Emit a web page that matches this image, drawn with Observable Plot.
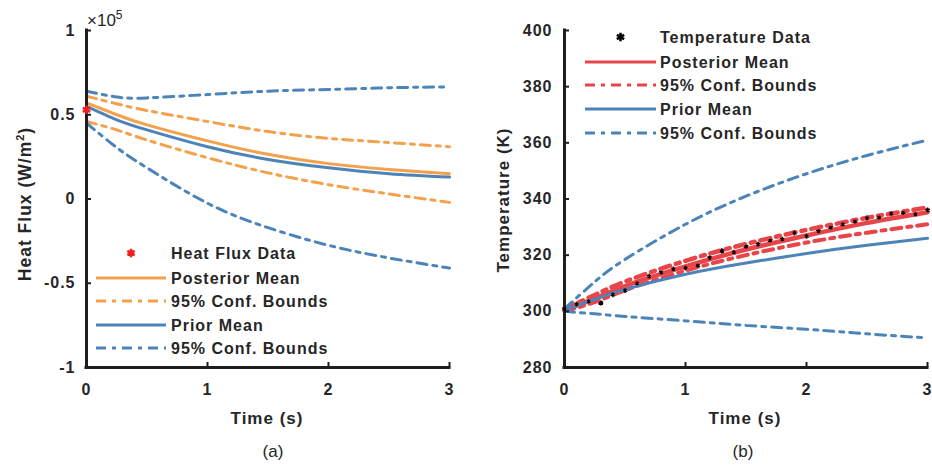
<!DOCTYPE html>
<html>
<head>
<meta charset="utf-8">
<script src="https://cdn.jsdelivr.net/npm/d3@7"></script>
<script src="https://cdn.jsdelivr.net/npm/@observablehq/plot@0.6"></script>
<style>
  html, body { margin: 0; padding: 0; background: #fff; }
  body { width: 932px; height: 468px; position: relative; overflow: hidden;
         font-family: "Liberation Sans", Arial, sans-serif; }
  .panel { position: absolute; top: 0; }
  .lbl { position: absolute; font-weight: bold; font-size: 17px; color: #262626;
         letter-spacing: 1px; white-space: nowrap; line-height: 1; }
  .ylab { transform: translate(-50%, -50%) rotate(-90deg); }
  .xlab { transform: translate(-50%, -50%); }
  .cap { position: absolute; font-size: 17px; color: #262626; transform: translate(-50%, -50%);
         line-height: 1; }
  #overlay { position: absolute; left: 0; top: 0; pointer-events: none; }
</style>
</head>
<body>
<div id="left" class="panel" style="left:0"></div>
<div id="right" class="panel" style="left:478px"></div>

<div class="lbl" style="left:87px; top:9px; font-size:17px; font-weight:normal; letter-spacing:0">×10<sup style="font-size:12px">5</sup></div>
<div class="lbl ylab" style="left:25px; top:204px; font-size:17.5px">Heat Flux (W/m<sup style="font-size:11px">2</sup>)</div>
<div class="lbl ylab" style="left:503px; top:200px">Temperature (K)</div>
<div class="lbl xlab" style="left:267px; top:418px">Time (s)</div>
<div class="lbl xlab" style="left:745px; top:418px">Time (s)</div>
<div class="cap" style="left:273px; top:451px">(a)</div>
<div class="cap" style="left:743px; top:451px">(b)</div>

<script>
// ---- shared time grid for the model curves (s) ----
const t = [0, 0.25, 0.5, 1, 1.5, 2, 2.5, 3];

// ---- (a) heat flux, in units of 1e5 W/m^2 ----
const fluxDataT = [0];
const fluxDataV = [0.53];
const fluxPostMean  = [0.57, 0.50, 0.44, 0.345, 0.265, 0.21, 0.175, 0.15];
const fluxPostUpper = [0.61, 0.565, 0.525, 0.46, 0.40, 0.36, 0.335, 0.31];
const fluxPostLower = [0.46, 0.41, 0.35, 0.245, 0.155, 0.085, 0.03, -0.02];
const fluxPriorMean  = [0.55, 0.47, 0.41, 0.31, 0.235, 0.185, 0.15, 0.13];
const fluxPriorUpper = [0.64, 0.605, 0.60, 0.62, 0.64, 0.65, 0.66, 0.665];
const fluxPriorLower = [0.45, 0.305, 0.185, -0.025, -0.17, -0.275, -0.35, -0.41];

// ---- (b) temperature, K ----
const tempDataT = [0, 0.1, 0.2, 0.3, 0.4, 0.5, 0.6, 0.7, 0.8, 0.9, 1.0, 1.1, 1.2, 1.3, 1.4, 1.5,
                   1.6, 1.7, 1.8, 1.9, 2.0, 2.1, 2.2, 2.3, 2.4, 2.5, 2.6, 2.7, 2.8, 2.9, 3.0];
const tempDataV = [300.8, 302.5, 303.5, 303.0, 306.0, 307.5, 310.0, 312.4, 313.8, 315.0, 315.5,
                   316.3, 319.0, 321.5, 321.0, 323.0, 323.8, 325.2, 325.6, 328.0, 326.8, 328.5,
                   329.8, 331.0, 332.0, 333.2, 333.4, 334.8, 335.1, 334.6, 336.0];
const tempPostMean  = [300.5, 304.5, 309.0, 316.0, 322.0, 327.0, 331.5, 335.3];
const tempPostUpper = [301.0, 305.8, 310.6, 318.0, 324.0, 329.0, 333.3, 337.0];
const tempPostLower = [300.0, 303.3, 307.5, 314.5, 320.0, 324.5, 328.0, 331.0];
const tempPriorMean  = [300.5, 304.3, 307.8, 313.2, 317.2, 320.6, 323.5, 326.0];
const tempPriorUpper = [301.0, 310.5, 318.5, 331.0, 341.0, 349.0, 355.5, 361.0];
const tempPriorLower = [300.0, 299.1, 298.2, 296.6, 295.0, 293.6, 292.0, 290.5];

// ---- tick labels ----
const xTicks = [0, 1, 2, 3];
const fluxTicks = [-1, -0.5, 0, 0.5, 1];
const tempTicks = [280, 300, 320, 340, 360, 380, 400];

// ---- legend entries ----
const fluxLegend = ["Heat Flux Data", "Posterior Mean", "95% Conf. Bounds", "Prior Mean", "95% Conf. Bounds"];
const tempLegend = ["Temperature Data", "Posterior Mean", "95% Conf. Bounds", "Prior Mean", "95% Conf. Bounds"];

const ORANGE = "#F5A04A", BLUE = "#4C84BA", RED = "#E8454A", STAR_RED = "#F21E1E", INK = "#1e1e1e";
const DASHDOT = "10,6,4,6";
const TICK = 5;               // inward tick length, px
const PLOT_W = 363, PLOT_H = 337;

const rows = (xs, ys) => xs.map((x, i) => ({t: x, v: ys[i]}));
const fmt = d => String(d);

const svgStyle = "font-family:'Liberation Sans',Arial,sans-serif;font-size:16px;font-weight:bold;" +
                 "letter-spacing:1px;color:#262626;background:transparent;overflow:visible;";

function curve(ys, stroke, dashed, width = 3) {
  return Plot.line(rows(t, ys), {
    x: "t", y: "v", stroke, strokeWidth: width, curve: "natural",
    strokeDasharray: dashed ? DASHDOT : null
  });
}

// left/bottom axis lines with short inward ticks
function frame(yMin, yTicks, yPad) {
  return [
    Plot.axisX({ticks: xTicks, tickFormat: fmt, tickSize: 0, tickPadding: 16, label: null}),
    Plot.axisY({ticks: yTicks, tickFormat: fmt, tickSize: 0, tickPadding: yPad, label: null}),
    Plot.ruleY(yTicks, {stroke: INK, strokeWidth: 2, insetRight: PLOT_W - TICK}),
    Plot.ruleX(xTicks, {stroke: INK, strokeWidth: 2, insetTop: PLOT_H - TICK}),
    Plot.ruleX([0], {stroke: INK, strokeWidth: 3, strokeLinecap: "square"}),
    Plot.ruleY([yMin], {stroke: INK, strokeWidth: 3, strokeLinecap: "square"})
  ];
}

// (a) heat flux estimate
const left = Plot.plot({
  width: 466, height: 430,
  marginLeft: 86, marginRight: 17, marginTop: 30, marginBottom: 63,
  style: svgStyle,
  x: {domain: [0, 3]},
  y: {domain: [-1, 1]},
  marks: [
    curve(fluxPostMean, ORANGE, false),
    curve(fluxPostUpper, ORANGE, true),
    curve(fluxPostLower, ORANGE, true),
    curve(fluxPriorMean, BLUE, false),
    curve(fluxPriorUpper, BLUE, true),
    curve(fluxPriorLower, BLUE, true),
    ...frame(-1, fluxTicks, 11),
    Plot.dot(rows(fluxDataT, fluxDataV), {x: "t", y: "v", symbol: "asterisk", r: 4, stroke: STAR_RED, strokeWidth: 2.5})
  ]
});
document.getElementById("left").append(left);

// (b) temperature response
const right = Plot.plot({
  width: 454, height: 430,
  marginLeft: 86, marginRight: 5, marginTop: 30, marginBottom: 63,
  style: svgStyle,
  x: {domain: [0, 3]},
  y: {domain: [280, 400]},
  marks: [
    Plot.dot(rows(tempDataT, tempDataV), {x: "t", y: "v", symbol: "asterisk", r: 2.5, stroke: "#000", strokeWidth: 1.6}),
    curve(tempPostMean, RED, false, 4.5),
    curve(tempPostUpper, RED, true, 4.5),
    curve(tempPostLower, RED, true, 4),
    curve(tempPriorMean, BLUE, false),
    curve(tempPriorUpper, BLUE, true),
    curve(tempPriorLower, BLUE, true),
    ...frame(280, tempTicks, 12),
    Plot.dot(rows(tempDataT, tempDataV), {x: "t", y: "v", symbol: "asterisk", r: 1.8, stroke: "#000", strokeWidth: 1.3})
  ]
});
document.getElementById("right").append(right);

// ---- legends ----
const overlay = d3.select("body").append("svg")
  .attr("id", "overlay").attr("width", 932).attr("height", 468);

function legend(x0, x1, xText, yRows, labels, styles) {
  const g = overlay.append("g")
    .style("font-family", "'Liberation Sans',Arial,sans-serif")
    .style("font-size", "16px").style("font-weight", "bold").style("letter-spacing", "1px");
  labels.forEach((label, i) => {
    const y = yRows[i], s = styles[i];
    if (s.star) {
      g.append("path")
        .attr("d", d3.symbol(d3.symbolAsterisk, s.size)())
        .attr("transform", `translate(${(x0 + x1) / 2},${y})`)
        .attr("stroke", s.color).attr("stroke-width", s.width).attr("fill", "none");
    } else {
      g.append("line").attr("x1", x0).attr("x2", x1).attr("y1", y).attr("y2", y)
        .attr("stroke", s.color).attr("stroke-width", 3)
        .attr("stroke-dasharray", s.dashed ? DASHDOT : null);
    }
    g.append("text").attr("x", xText).attr("y", y).attr("dy", "0.36em")
      .attr("fill", "#262626").text(label);
  });
}

legend(96, 166, 171, [253, 278, 301, 325, 348], fluxLegend, [
  {star: true, color: STAR_RED, size: 50, width: 2.5},
  {color: ORANGE}, {color: ORANGE, dashed: true},
  {color: BLUE}, {color: BLUE, dashed: true}
]);
legend(585, 656, 660, [37, 62, 85, 109, 133], tempLegend, [
  {star: true, color: "#000", size: 50, width: 2.5},
  {color: RED}, {color: RED, dashed: true},
  {color: BLUE}, {color: BLUE, dashed: true}
]);
</script>
</body>
</html>
